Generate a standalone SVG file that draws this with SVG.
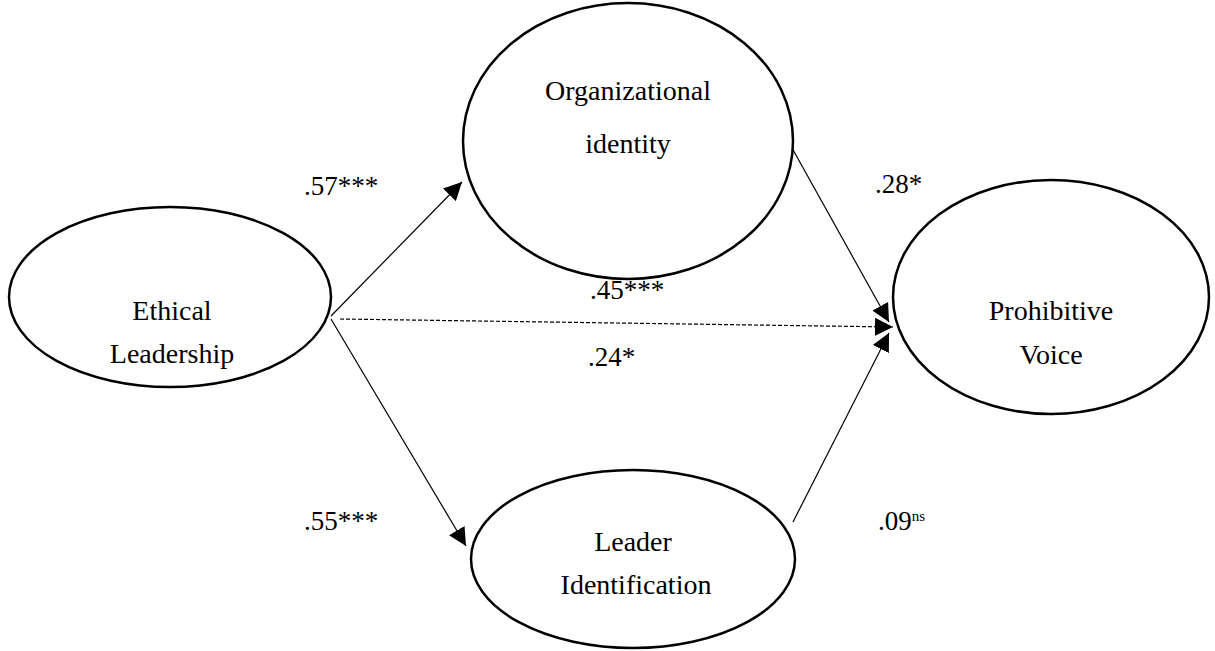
<svg xmlns="http://www.w3.org/2000/svg" width="1215" height="651" viewBox="0 0 1215 651">
<style>
.node ellipse{fill:#fff;stroke:#000;stroke-width:2.5}
text{font-family:"Liberation Serif","Times New Roman",serif;font-size:28px;fill:#000;text-anchor:middle}
.lbl{text-anchor:start;font-size:27px}
.conn line{stroke:#000;stroke-width:1.2}
.dash{stroke-dasharray:4 2}
</style>
<defs>
<marker id="ah" viewBox="0 0 10 10" refX="10" refY="5" markerWidth="18" markerHeight="18" markerUnits="userSpaceOnUse" orient="auto">
<path d="M0,0 L10,5 L0,10 z" fill="#000"/>
</marker>
</defs>
<g id="connectors" class="conn">
<line x1="331" y1="316" x2="462" y2="182" marker-end="url(#ah)"/>
<line x1="331" y1="319" x2="466" y2="546" marker-end="url(#ah)"/>
<line class="dash" x1="340" y1="319" x2="893" y2="327" marker-end="url(#ah)"/>
<line x1="787" y1="139" x2="889" y2="322" marker-end="url(#ah)"/>
<line x1="793" y1="522" x2="889" y2="333" marker-end="url(#ah)"/>
</g>
<g id="ethical" class="node">
<ellipse cx="170" cy="297" rx="161" ry="90"/>
<text x="172" y="320">Ethical</text>
<text x="172" y="363">Leadership</text>
</g>
<g id="org" class="node">
<ellipse cx="628" cy="141" rx="165" ry="138"/>
<text x="628" y="100">Organizational</text>
<text x="628" y="153">identity</text>
</g>
<g id="leader" class="node">
<ellipse cx="633" cy="559" rx="162" ry="89"/>
<text x="633" y="551">Leader</text>
<text x="636" y="594">Identification</text>
</g>
<g id="voice" class="node">
<ellipse cx="1051" cy="297" rx="158" ry="117"/>
<text x="1051" y="320">Prohibitive</text>
<text x="1051" y="364">Voice</text>
</g>
<g id="labels">
<text class="lbl" x="304" y="195">.57***</text>
<text class="lbl" x="590" y="299">.45***</text>
<text class="lbl" x="588" y="366">.24*</text>
<text class="lbl" x="304" y="530">.55***</text>
<text class="lbl" x="875" y="193">.28*</text>
<text class="lbl" x="878" y="530">.09<tspan font-size="15" dy="-9">ns</tspan></text>
</g>
</svg>
